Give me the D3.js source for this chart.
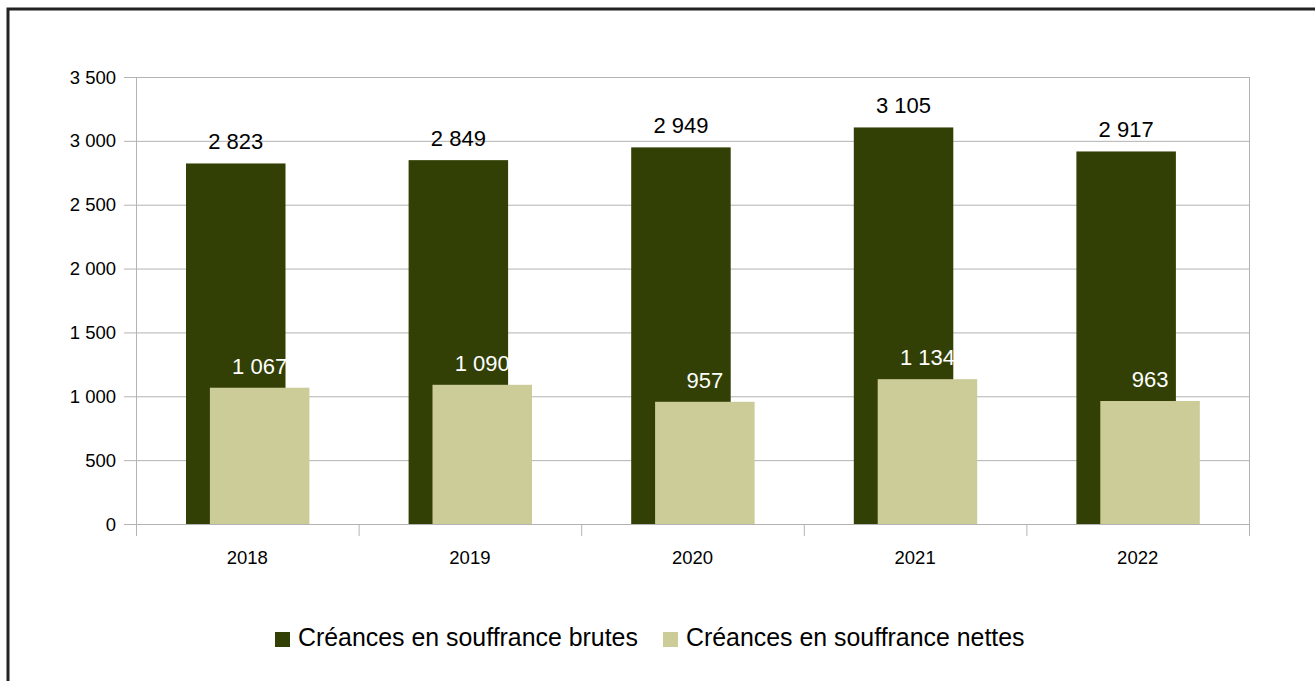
<!DOCTYPE html>
<html>
<head>
<meta charset="utf-8">
<script src="https://cdn.jsdelivr.net/npm/d3@7"></script>
<style>
  html, body { margin: 0; padding: 0; background: #fff; }
  svg { display: block; font-family: "Liberation Sans", Arial, sans-serif; }
</style>
</head>
<body>
<svg id="chart" width="1315" height="681"></svg>
<script>
const categories = ["2018", "2019", "2020", "2021", "2022"];
const seriesNames = ["Créances en souffrance brutes", "Créances en souffrance nettes"];
const brutes = [2823, 2849, 2949, 3105, 2917];
const nettes = [1067, 1090, 957, 1134, 963];
const yTicks = [0, 500, 1000, 1500, 2000, 2500, 3000, 3500];
const colors = ["#334005", "#cccc99"];

const svg = d3.select("#chart");
const fmt = v => d3.format(",")(v).replace(/,/g, " ");

const plot = { left: 136, right: 1249, top: 77, bottom: 524 };

// outer frame
svg.append("rect")
  .attr("x", 8).attr("y", 9).attr("width", 1330).attr("height", 700)
  .attr("fill", "none").attr("stroke", "#222").attr("stroke-width", 3);

const x = d3.scaleBand().domain(categories).range([plot.left, plot.right]).paddingInner(0).paddingOuter(0);
const y = d3.scaleLinear().domain([0, 3500]).range([plot.bottom, plot.top]);

// gridlines
svg.append("g").selectAll("line").data(yTicks).join("line")
  .attr("x1", plot.left - 12).attr("x2", plot.right)
  .attr("y1", d => y(d) + 0.5).attr("y2", d => y(d) + 0.5)
  .attr("stroke", "#b3b3b3").attr("stroke-width", 1);

// left axis and right border
svg.append("line").attr("x1", plot.left + 0.5).attr("x2", plot.left + 0.5)
  .attr("y1", plot.top).attr("y2", plot.bottom + 12).attr("stroke", "#b3b3b3");
svg.append("line").attr("x1", plot.right + 0.5).attr("x2", plot.right + 0.5)
  .attr("y1", plot.top).attr("y2", plot.bottom + 12).attr("stroke", "#b3b3b3");

// category separators
svg.append("g").selectAll("line").data(categories.slice(1)).join("line")
  .attr("x1", d => x(d) + 0.5).attr("x2", d => x(d) + 0.5)
  .attr("y1", plot.bottom).attr("y2", plot.bottom + 12)
  .attr("stroke", "#b3b3b3");

// y tick labels
svg.append("g").selectAll("text").data(yTicks).join("text")
  .attr("x", plot.left - 20).attr("y", d => y(d) + 6.5)
  .attr("text-anchor", "end").attr("font-size", 18.5).attr("fill", "#000")
  .text(d => fmt(d));

// x labels
svg.append("g").selectAll("text").data(categories).join("text")
  .attr("x", d => x(d) + x.bandwidth() / 2).attr("y", plot.bottom + 40)
  .attr("text-anchor", "middle").attr("font-size", 18.5).attr("fill", "#000")
  .text(d => d);

const bw = x.bandwidth();
const darkOff = 0.2246 * bw, lightOff = 0.332 * bw, barW = 0.447 * bw;

// dark bars
svg.append("g").selectAll("rect").data(brutes).join("rect")
  .attr("x", (d, i) => x(categories[i]) + darkOff)
  .attr("y", d => y(d)).attr("width", barW)
  .attr("height", d => y(0) - y(d)).attr("fill", colors[0]);

// light bars
svg.append("g").selectAll("rect").data(nettes).join("rect")
  .attr("x", (d, i) => x(categories[i]) + lightOff)
  .attr("y", d => y(d)).attr("width", barW)
  .attr("height", d => y(0) - y(d)).attr("fill", colors[1]);

// labels
svg.append("g").selectAll("text").data(brutes).join("text")
  .attr("x", (d, i) => x(categories[i]) + darkOff + barW / 2)
  .attr("y", d => y(d) - 14)
  .attr("text-anchor", "middle").attr("font-size", 22).attr("fill", "#000")
  .text(d => fmt(d));
svg.append("g").selectAll("text").data(nettes).join("text")
  .attr("x", (d, i) => x(categories[i]) + lightOff + barW / 2)
  .attr("y", d => y(d) - 14)
  .attr("text-anchor", "middle").attr("font-size", 22).attr("fill", "#fff")
  .text(d => fmt(d));

// legend
const legendItems = [{ name: seriesNames[0], color: colors[0], x: 275 }, { name: seriesNames[1], color: colors[1], x: 663 }];
const lg = svg.append("g").selectAll("g").data(legendItems).join("g");
lg.append("rect").attr("x", d => d.x).attr("y", 632).attr("width", 15).attr("height", 15).attr("fill", d => d.color);
lg.append("text").attr("x", d => d.x + 23).attr("y", 646).attr("font-size", 24.9).attr("fill", "#000").text(d => d.name);
</script>
</body>
</html>
